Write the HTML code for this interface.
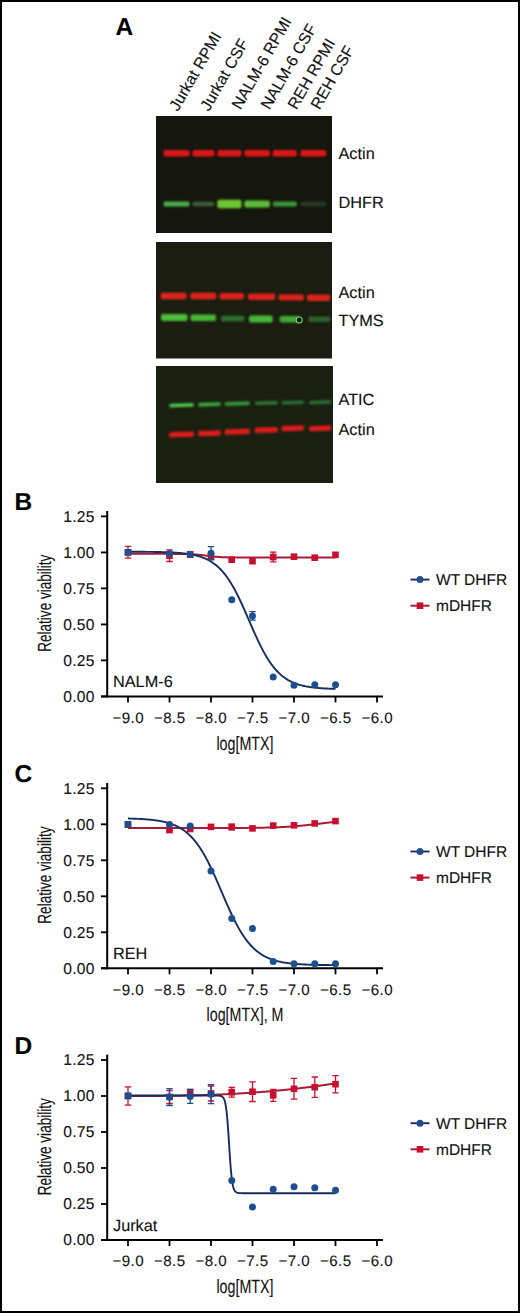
<!DOCTYPE html>
<html><head><meta charset="utf-8"><style>
html,body{margin:0;padding:0;background:#fff;}
body{width:520px;height:1313px;overflow:hidden;}
#fig{position:absolute;left:0;top:0;width:520px;height:1313px;box-sizing:border-box;border:2px solid #000;}
svg{position:absolute;left:0;top:0;}
text{stroke:#111;stroke-width:0.12px;}
</style></head><body>
<div id="fig"></div>
<svg width="520" height="1313" viewBox="0 0 520 1313" text-rendering="geometricPrecision">
<defs><filter id="bl" x="-20%" y="-100%" width="140%" height="300%"><feGaussianBlur stdDeviation="0.85"/></filter></defs>
<text x="115.5" y="35" font-family='"Liberation Sans", sans-serif' font-weight="bold" font-size="24.5" fill="#000" stroke="#000" stroke-width="0.35">A</text>
<text x="178" y="112" transform="rotate(-60 178 112)" font-family='"Liberation Sans", sans-serif' font-size="16" fill="#111">Jurkat RPMI</text>
<text x="209" y="112" transform="rotate(-60 209 112)" font-family='"Liberation Sans", sans-serif' font-size="16" fill="#111">Jurkat CSF</text>
<text x="240.5" y="110.5" transform="rotate(-60 240.5 110.5)" font-family='"Liberation Sans", sans-serif' font-size="16" fill="#111">NALM-6 RPMI</text>
<text x="269.5" y="110.5" transform="rotate(-60 269.5 110.5)" font-family='"Liberation Sans", sans-serif' font-size="16" fill="#111">NALM-6 CSF</text>
<text x="296.5" y="110.5" transform="rotate(-60 296.5 110.5)" font-family='"Liberation Sans", sans-serif' font-size="16" fill="#111">REH RPMI</text>
<text x="319.5" y="110.5" transform="rotate(-60 319.5 110.5)" font-family='"Liberation Sans", sans-serif' font-size="16" fill="#111">REH CSF</text>
<rect x="156" y="116" width="176" height="117" fill="#15160d"/>
<rect x="156" y="242" width="176" height="116.5" fill="#1a1d10"/>
<rect x="156" y="366" width="177" height="117" fill="#192010"/>
<rect x="163.5" y="150.0" width="26.1" height="6.6" rx="2" fill="#dc1616" opacity="1.0" filter="url(#bl)"/>
<rect x="192.4" y="150.0" width="22.1" height="6.6" rx="2" fill="#dc1616" opacity="1.0" filter="url(#bl)"/>
<rect x="217.3" y="150.0" width="24.2" height="6.6" rx="2" fill="#dc1616" opacity="1.0" filter="url(#bl)"/>
<rect x="244.3" y="150.0" width="25.6" height="6.6" rx="2" fill="#dc1616" opacity="1.0" filter="url(#bl)"/>
<rect x="272.7" y="150.0" width="24.2" height="6.6" rx="2" fill="#dc1616" opacity="1.0" filter="url(#bl)"/>
<rect x="300.4" y="150.0" width="25.9" height="6.6" rx="2" fill="#dc1616" opacity="1.0" filter="url(#bl)"/>
<rect x="163.5" y="201.5" width="26.1" height="5.0" rx="2" fill="#4aae48" opacity="1.0" filter="url(#bl)"/>
<rect x="192.4" y="201.8" width="22.1" height="4.5" rx="2" fill="#3a5e3c" opacity="1.0" filter="url(#bl)"/>
<rect x="217.3" y="199.8" width="24.2" height="8.5" rx="2" fill="#6cc830" opacity="1.0" filter="url(#bl)"/>
<rect x="244.3" y="200.5" width="25.6" height="7.0" rx="2" fill="#5cbc3a" opacity="1.0" filter="url(#bl)"/>
<rect x="272.7" y="201.5" width="24.2" height="5.0" rx="2" fill="#37983a" opacity="1.0" filter="url(#bl)"/>
<rect x="300.4" y="201.8" width="25.9" height="4.5" rx="2" fill="#283a28" opacity="1.0" filter="url(#bl)"/>
<rect x="160.6" y="292.8" width="26.2" height="6.4" rx="2" fill="#dc241a" opacity="1.0" filter="url(#bl)"/>
<rect x="190.2" y="292.8" width="26.1" height="6.4" rx="2" fill="#dc241a" opacity="1.0" filter="url(#bl)"/>
<rect x="219.5" y="293.0" width="24.5" height="6.4" rx="2" fill="#dc241a" opacity="1.0" filter="url(#bl)"/>
<rect x="247.9" y="293.5" width="27.3" height="6.4" rx="2" fill="#dc241a" opacity="1.0" filter="url(#bl)"/>
<rect x="278.6" y="294.2" width="25.2" height="6.4" rx="2" fill="#dc241a" opacity="1.0" filter="url(#bl)"/>
<rect x="306.9" y="294.6" width="23.3" height="6.4" rx="2" fill="#dc241a" opacity="1.0" filter="url(#bl)"/>
<rect x="161.0" y="314.1" width="26.5" height="7.0" rx="2" fill="#4cbe3a" opacity="1.0" filter="url(#bl)"/>
<rect x="190.5" y="314.6" width="25.5" height="6.5" rx="2" fill="#48b838" opacity="1.0" filter="url(#bl)"/>
<rect x="220.8" y="315.8" width="23.6" height="5.5" rx="2" fill="#2c702e" opacity="1.0" filter="url(#bl)"/>
<rect x="249.0" y="315.6" width="23.7" height="6.8" rx="2" fill="#46b838" opacity="1.0" filter="url(#bl)"/>
<rect x="279.6" y="316.1" width="20.4" height="6.5" rx="2" fill="#40aa38" opacity="1.0" filter="url(#bl)"/>
<rect x="308.4" y="316.6" width="22.0" height="5.5" rx="2" fill="#2c642e" opacity="1.0" filter="url(#bl)"/>
<circle cx="299.2" cy="320" r="3" fill="#0a1208" stroke="#6ad860" stroke-width="1.1"/>
<rect x="169.0" y="403.4" width="25.0" height="3.6" rx="2" fill="#4ccc4c" opacity="1.0" filter="url(#bl)" transform="rotate(-2 181.5 405.2)"/>
<rect x="198.0" y="402.6" width="23.0" height="3.6" rx="2" fill="#3aa840" opacity="1.0" filter="url(#bl)" transform="rotate(-2 209.5 404.4)"/>
<rect x="224.5" y="401.8" width="25.5" height="3.6" rx="2" fill="#349a3a" opacity="1.0" filter="url(#bl)" transform="rotate(-2 237.2 403.6)"/>
<rect x="254.7" y="401.2" width="23.3" height="3.6" rx="2" fill="#2c7834" opacity="1.0" filter="url(#bl)" transform="rotate(-2 266.4 403.0)"/>
<rect x="281.3" y="400.7" width="22.7" height="3.6" rx="2" fill="#2a7034" opacity="1.0" filter="url(#bl)" transform="rotate(-2 292.6 402.5)"/>
<rect x="309.0" y="400.4" width="22.5" height="3.6" rx="2" fill="#2a7034" opacity="1.0" filter="url(#bl)" transform="rotate(-2 320.2 402.2)"/>
<rect x="169.0" y="431.8" width="25.0" height="5.4" rx="2" fill="#dc1a1a" opacity="1.0" filter="url(#bl)" transform="rotate(-2 181.5 434.5)"/>
<rect x="198.0" y="430.6" width="23.0" height="5.4" rx="2" fill="#dc1a1a" opacity="1.0" filter="url(#bl)" transform="rotate(-2 209.5 433.3)"/>
<rect x="224.5" y="429.0" width="25.5" height="5.4" rx="2" fill="#dc1a1a" opacity="1.0" filter="url(#bl)" transform="rotate(-2 237.2 431.7)"/>
<rect x="254.7" y="427.3" width="23.3" height="5.4" rx="2" fill="#dc1a1a" opacity="1.0" filter="url(#bl)" transform="rotate(-2 266.4 430.0)"/>
<rect x="281.3" y="425.5" width="22.7" height="5.4" rx="2" fill="#dc1a1a" opacity="1.0" filter="url(#bl)" transform="rotate(-2 292.6 428.2)"/>
<rect x="309.0" y="425.7" width="22.5" height="5.4" rx="2" fill="#dc1a1a" opacity="1.0" filter="url(#bl)" transform="rotate(-2 320.2 428.4)"/>
<text x="338.5" y="158.7" font-family='"Liberation Sans", sans-serif' font-size="16.3" fill="#111">Actin</text>
<text x="338.5" y="207.7" font-family='"Liberation Sans", sans-serif' font-size="16.3" fill="#111">DHFR</text>
<text x="338.5" y="298" font-family='"Liberation Sans", sans-serif' font-size="16.3" fill="#111">Actin</text>
<text x="338.5" y="326.2" font-family='"Liberation Sans", sans-serif' font-size="16.3" fill="#111">TYMS</text>
<text x="338.5" y="404.8" font-family='"Liberation Sans", sans-serif' font-size="16.3" fill="#111">ATIC</text>
<text x="338.5" y="434.8" font-family='"Liberation Sans", sans-serif' font-size="16.3" fill="#111">Actin</text>
<text x="14.5" y="510.0" font-family='"Liberation Sans", sans-serif' font-weight="bold" font-size="24.5" fill="#000" stroke="#000" stroke-width="0.35">B</text>
<line x1="107.2" y1="511.0" x2="107.2" y2="697.4" stroke="#000" stroke-width="2"/>
<line x1="101" y1="696.4" x2="383" y2="696.4" stroke="#000" stroke-width="2"/>
<line x1="101" y1="696.4" x2="107" y2="696.4" stroke="#000" stroke-width="1.8"/>
<text x="94.6" y="701.6" text-anchor="end" font-family='"Liberation Sans", sans-serif' font-size="15.6" letter-spacing="0.25" fill="#111">0.00</text>
<line x1="101" y1="660.4" x2="107" y2="660.4" stroke="#000" stroke-width="1.8"/>
<text x="94.6" y="665.6" text-anchor="end" font-family='"Liberation Sans", sans-serif' font-size="15.6" letter-spacing="0.25" fill="#111">0.25</text>
<line x1="101" y1="624.4" x2="107" y2="624.4" stroke="#000" stroke-width="1.8"/>
<text x="94.6" y="629.6" text-anchor="end" font-family='"Liberation Sans", sans-serif' font-size="15.6" letter-spacing="0.25" fill="#111">0.50</text>
<line x1="101" y1="588.4" x2="107" y2="588.4" stroke="#000" stroke-width="1.8"/>
<text x="94.6" y="593.6" text-anchor="end" font-family='"Liberation Sans", sans-serif' font-size="15.6" letter-spacing="0.25" fill="#111">0.75</text>
<line x1="101" y1="552.4" x2="107" y2="552.4" stroke="#000" stroke-width="1.8"/>
<text x="94.6" y="557.6" text-anchor="end" font-family='"Liberation Sans", sans-serif' font-size="15.6" letter-spacing="0.25" fill="#111">1.00</text>
<line x1="101" y1="516.4" x2="107" y2="516.4" stroke="#000" stroke-width="1.8"/>
<text x="94.6" y="521.6" text-anchor="end" font-family='"Liberation Sans", sans-serif' font-size="15.6" letter-spacing="0.25" fill="#111">1.25</text>
<line x1="128.0" y1="696.4" x2="128.0" y2="702.4" stroke="#000" stroke-width="1.8"/>
<text x="128.2" y="722.7" text-anchor="middle" font-family='"Liberation Sans", sans-serif' font-size="15.1" letter-spacing="0.45" fill="#111">−9.0</text>
<line x1="169.5" y1="696.4" x2="169.5" y2="702.4" stroke="#000" stroke-width="1.8"/>
<text x="169.7" y="722.7" text-anchor="middle" font-family='"Liberation Sans", sans-serif' font-size="15.1" letter-spacing="0.45" fill="#111">−8.5</text>
<line x1="211.0" y1="696.4" x2="211.0" y2="702.4" stroke="#000" stroke-width="1.8"/>
<text x="211.2" y="722.7" text-anchor="middle" font-family='"Liberation Sans", sans-serif' font-size="15.1" letter-spacing="0.45" fill="#111">−8.0</text>
<line x1="252.5" y1="696.4" x2="252.5" y2="702.4" stroke="#000" stroke-width="1.8"/>
<text x="252.7" y="722.7" text-anchor="middle" font-family='"Liberation Sans", sans-serif' font-size="15.1" letter-spacing="0.45" fill="#111">−7.5</text>
<line x1="294.0" y1="696.4" x2="294.0" y2="702.4" stroke="#000" stroke-width="1.8"/>
<text x="294.2" y="722.7" text-anchor="middle" font-family='"Liberation Sans", sans-serif' font-size="15.1" letter-spacing="0.45" fill="#111">−7.0</text>
<line x1="335.5" y1="696.4" x2="335.5" y2="702.4" stroke="#000" stroke-width="1.8"/>
<text x="335.7" y="722.7" text-anchor="middle" font-family='"Liberation Sans", sans-serif' font-size="15.1" letter-spacing="0.45" fill="#111">−6.5</text>
<line x1="377.0" y1="696.4" x2="377.0" y2="702.4" stroke="#000" stroke-width="1.8"/>
<text x="377.2" y="722.7" text-anchor="middle" font-family='"Liberation Sans", sans-serif' font-size="15.1" letter-spacing="0.45" fill="#111">−6.0</text>
<text transform="translate(51 603.2) rotate(-90) scale(0.713 1)" text-anchor="middle" font-family='"Liberation Sans", sans-serif' font-size="19" fill="#111">Relative viability</text>
<text transform="translate(245.0 749.5) scale(0.74 1)" text-anchor="middle" font-family='"Liberation Sans", sans-serif' font-size="19.3" fill="#111">log[MTX]</text>
<text x="113" y="687.1" font-family='"Liberation Sans", sans-serif' font-size="16.3" fill="#111">NALM-6</text>
<path d="M128.00,553.84 L128.69,553.84 L129.38,553.84 L130.08,553.84 L130.77,553.84 L131.46,553.84 L132.15,553.84 L132.84,553.84 L133.53,553.84 L134.22,553.84 L134.92,553.84 L135.61,553.84 L136.30,553.84 L136.99,553.84 L137.68,553.84 L138.38,553.84 L139.07,553.84 L139.76,553.84 L140.45,553.84 L141.14,553.84 L141.83,553.84 L142.53,553.84 L143.22,553.84 L143.91,553.84 L144.60,553.84 L145.29,553.84 L145.98,553.84 L146.67,553.84 L147.37,553.84 L148.06,553.84 L148.75,553.84 L149.44,553.84 L150.13,553.84 L150.83,553.84 L151.52,553.84 L152.21,553.84 L152.90,553.84 L153.59,553.84 L154.28,553.84 L154.97,553.84 L155.67,553.84 L156.36,553.84 L157.05,553.84 L157.74,553.84 L158.43,553.84 L159.12,553.84 L159.82,553.85 L160.51,553.85 L161.20,553.85 L161.89,553.85 L162.58,553.85 L163.28,553.85 L163.97,553.85 L164.66,553.85 L165.35,553.85 L166.04,553.85 L166.73,553.85 L167.42,553.86 L168.12,553.86 L168.81,553.86 L169.50,553.86 L170.19,553.86 L170.88,553.87 L171.58,553.87 L172.27,553.87 L172.96,553.87 L173.65,553.88 L174.34,553.88 L175.03,553.88 L175.72,553.89 L176.42,553.89 L177.11,553.90 L177.80,553.91 L178.49,553.91 L179.18,553.92 L179.88,553.93 L180.57,553.94 L181.26,553.94 L181.95,553.95 L182.64,553.97 L183.33,553.98 L184.03,553.99 L184.72,554.01 L185.41,554.02 L186.10,554.04 L186.79,554.06 L187.48,554.08 L188.17,554.10 L188.87,554.13 L189.56,554.15 L190.25,554.18 L190.94,554.21 L191.63,554.24 L192.33,554.28 L193.02,554.32 L193.71,554.36 L194.40,554.41 L195.09,554.45 L195.78,554.50 L196.47,554.56 L197.17,554.61 L197.86,554.68 L198.55,554.74 L199.24,554.81 L199.93,554.88 L200.62,554.95 L201.32,555.03 L202.01,555.11 L202.70,555.19 L203.39,555.27 L204.08,555.36 L204.78,555.44 L205.47,555.53 L206.16,555.62 L206.85,555.71 L207.54,555.80 L208.23,555.89 L208.92,555.98 L209.62,556.07 L210.31,556.15 L211.00,556.24 L211.69,556.32 L212.38,556.40 L213.08,556.47 L213.77,556.55 L214.46,556.62 L215.15,556.68 L215.84,556.75 L216.53,556.81 L217.23,556.87 L217.92,556.92 L218.61,556.97 L219.30,557.02 L219.99,557.06 L220.68,557.10 L221.38,557.14 L222.07,557.18 L222.76,557.21 L223.45,557.24 L224.14,557.27 L224.83,557.30 L225.52,557.32 L226.22,557.35 L226.91,557.37 L227.60,557.38 L228.29,557.40 L228.98,557.42 L229.67,557.43 L230.37,557.45 L231.06,557.46 L231.75,557.47 L232.44,557.48 L233.13,557.49 L233.83,557.50 L234.52,557.51 L235.21,557.51 L235.90,557.52 L236.59,557.52 L237.28,557.53 L237.98,557.53 L238.67,557.54 L239.36,557.54 L240.05,557.55 L240.74,557.55 L241.43,557.55 L242.12,557.56 L242.82,557.56 L243.51,557.56 L244.20,557.56 L244.89,557.56 L245.58,557.57 L246.27,557.57 L246.97,557.57 L247.66,557.57 L248.35,557.57 L249.04,557.57 L249.73,557.57 L250.42,557.58 L251.12,557.58 L251.81,557.58 L252.50,557.58 L253.19,557.58 L253.88,557.58 L254.58,557.58 L255.27,557.58 L255.96,557.58 L256.65,557.58 L257.34,557.58 L258.03,557.58 L258.73,557.58 L259.42,557.58 L260.11,557.58 L260.80,557.58 L261.49,557.58 L262.18,557.58 L262.88,557.58 L263.57,557.58 L264.26,557.58 L264.95,557.58 L265.64,557.58 L266.33,557.58 L267.02,557.58 L267.72,557.58 L268.41,557.58 L269.10,557.58 L269.79,557.58 L270.48,557.58 L271.17,557.58 L271.87,557.58 L272.56,557.58 L273.25,557.58 L273.94,557.58 L274.63,557.58 L275.33,557.58 L276.02,557.58 L276.71,557.58 L277.40,557.58 L278.09,557.58 L278.78,557.58 L279.48,557.58 L280.17,557.58 L280.86,557.58 L281.55,557.58 L282.24,557.58 L282.93,557.58 L283.62,557.58 L284.32,557.58 L285.01,557.58 L285.70,557.58 L286.39,557.58 L287.08,557.58 L287.77,557.58 L288.47,557.58 L289.16,557.58 L289.85,557.58 L290.54,557.58 L291.23,557.58 L291.92,557.58 L292.62,557.58 L293.31,557.58 L294.00,557.58 L294.69,557.58 L295.38,557.58 L296.08,557.58 L296.77,557.58 L297.46,557.58 L298.15,557.58 L298.84,557.58 L299.53,557.58 L300.23,557.58 L300.92,557.58 L301.61,557.58 L302.30,557.58 L302.99,557.58 L303.68,557.58 L304.38,557.58 L305.07,557.58 L305.76,557.58 L306.45,557.58 L307.14,557.58 L307.83,557.58 L308.52,557.58 L309.22,557.58 L309.91,557.58 L310.60,557.58 L311.29,557.58 L311.98,557.58 L312.67,557.58 L313.37,557.58 L314.06,557.58 L314.75,557.58 L315.44,557.58 L316.13,557.58 L316.83,557.58 L317.52,557.58 L318.21,557.58 L318.90,557.58 L319.59,557.58 L320.28,557.58 L320.98,557.58 L321.67,557.58 L322.36,557.58 L323.05,557.58 L323.74,557.58 L324.43,557.58 L325.12,557.58 L325.82,557.58 L326.51,557.58 L327.20,557.58 L327.89,557.58 L328.58,557.58 L329.27,557.58 L329.97,557.58 L330.66,557.58 L331.35,557.58 L332.04,557.58 L332.73,557.58 L333.42,557.58 L334.12,557.58 L334.81,557.58 L335.50,557.58" fill="none" stroke="#a81c38" stroke-width="2"/>
<path d="M128.0,546.4 L128.0,558.2 M124.8,546.4 L131.2,546.4 M124.8,558.2 L131.2,558.2" stroke="#c8102e" stroke-width="1.3" fill="none"/>
<rect x="124.7" y="549.0" width="6.6" height="6.6" fill="#c8102e"/>
<path d="M169.5,549.9 L169.5,561.5 M166.3,549.9 L172.7,549.9 M166.3,561.5 L172.7,561.5" stroke="#c8102e" stroke-width="1.3" fill="none"/>
<rect x="166.2" y="552.4" width="6.6" height="6.6" fill="#c8102e"/>
<path d="M190.2,551.6 L190.2,557.4 M187.1,551.6 L193.4,551.6 M187.1,557.4 L193.4,557.4" stroke="#c8102e" stroke-width="1.3" fill="none"/>
<rect x="186.9" y="551.2" width="6.6" height="6.6" fill="#c8102e"/>
<rect x="207.7" y="553.5" width="6.6" height="6.6" fill="#c8102e"/>
<rect x="228.4" y="556.4" width="6.6" height="6.6" fill="#c8102e"/>
<rect x="249.2" y="557.9" width="6.6" height="6.6" fill="#c8102e"/>
<path d="M273.2,552.1 L273.2,561.9 M270.1,552.1 L276.4,552.1 M270.1,561.9 L276.4,561.9" stroke="#c8102e" stroke-width="1.3" fill="none"/>
<rect x="269.9" y="553.7" width="6.6" height="6.6" fill="#c8102e"/>
<rect x="290.7" y="553.4" width="6.6" height="6.6" fill="#c8102e"/>
<rect x="311.4" y="554.4" width="6.6" height="6.6" fill="#c8102e"/>
<rect x="332.2" y="551.5" width="6.6" height="6.6" fill="#c8102e"/>
<path d="M128.00,551.73 L128.69,551.74 L129.38,551.74 L130.08,551.74 L130.77,551.74 L131.46,551.74 L132.15,551.75 L132.84,551.75 L133.53,551.75 L134.22,551.76 L134.92,551.76 L135.61,551.76 L136.30,551.76 L136.99,551.77 L137.68,551.77 L138.38,551.77 L139.07,551.78 L139.76,551.78 L140.45,551.79 L141.14,551.79 L141.83,551.80 L142.53,551.80 L143.22,551.81 L143.91,551.81 L144.60,551.82 L145.29,551.82 L145.98,551.83 L146.67,551.84 L147.37,551.84 L148.06,551.85 L148.75,551.86 L149.44,551.86 L150.13,551.87 L150.83,551.88 L151.52,551.89 L152.21,551.90 L152.90,551.91 L153.59,551.92 L154.28,551.93 L154.97,551.94 L155.67,551.95 L156.36,551.96 L157.05,551.98 L157.74,551.99 L158.43,552.00 L159.12,552.02 L159.82,552.03 L160.51,552.05 L161.20,552.07 L161.89,552.09 L162.58,552.10 L163.28,552.12 L163.97,552.14 L164.66,552.16 L165.35,552.19 L166.04,552.21 L166.73,552.23 L167.42,552.26 L168.12,552.29 L168.81,552.32 L169.50,552.34 L170.19,552.38 L170.88,552.41 L171.58,552.44 L172.27,552.48 L172.96,552.51 L173.65,552.55 L174.34,552.59 L175.03,552.64 L175.72,552.68 L176.42,552.73 L177.11,552.78 L177.80,552.83 L178.49,552.88 L179.18,552.94 L179.88,552.99 L180.57,553.06 L181.26,553.12 L181.95,553.19 L182.64,553.26 L183.33,553.33 L184.03,553.41 L184.72,553.49 L185.41,553.57 L186.10,553.66 L186.79,553.75 L187.48,553.85 L188.17,553.95 L188.87,554.06 L189.56,554.17 L190.25,554.28 L190.94,554.40 L191.63,554.53 L192.33,554.66 L193.02,554.80 L193.71,554.94 L194.40,555.09 L195.09,555.25 L195.78,555.42 L196.47,555.59 L197.17,555.77 L197.86,555.96 L198.55,556.15 L199.24,556.36 L199.93,556.57 L200.62,556.80 L201.32,557.03 L202.01,557.27 L202.70,557.53 L203.39,557.79 L204.08,558.07 L204.78,558.36 L205.47,558.66 L206.16,558.98 L206.85,559.30 L207.54,559.64 L208.23,560.00 L208.92,560.37 L209.62,560.76 L210.31,561.16 L211.00,561.58 L211.69,562.01 L212.38,562.46 L213.08,562.93 L213.77,563.42 L214.46,563.93 L215.15,564.46 L215.84,565.01 L216.53,565.58 L217.23,566.17 L217.92,566.79 L218.61,567.42 L219.30,568.08 L219.99,568.77 L220.68,569.47 L221.38,570.21 L222.07,570.96 L222.76,571.75 L223.45,572.56 L224.14,573.39 L224.83,574.26 L225.52,575.15 L226.22,576.07 L226.91,577.01 L227.60,577.99 L228.29,578.99 L228.98,580.03 L229.67,581.09 L230.37,582.18 L231.06,583.29 L231.75,584.44 L232.44,585.61 L233.13,586.82 L233.83,588.05 L234.52,589.31 L235.21,590.59 L235.90,591.90 L236.59,593.24 L237.28,594.60 L237.98,595.98 L238.67,597.39 L239.36,598.82 L240.05,600.27 L240.74,601.75 L241.43,603.24 L242.12,604.74 L242.82,606.27 L243.51,607.81 L244.20,609.36 L244.89,610.92 L245.58,612.50 L246.27,614.08 L246.97,615.67 L247.66,617.26 L248.35,618.86 L249.04,620.46 L249.73,622.06 L250.42,623.66 L251.12,625.25 L251.81,626.84 L252.50,628.42 L253.19,630.00 L253.88,631.56 L254.58,633.11 L255.27,634.65 L255.96,636.18 L256.65,637.69 L257.34,639.18 L258.03,640.65 L258.73,642.10 L259.42,643.53 L260.11,644.94 L260.80,646.33 L261.49,647.69 L262.18,649.03 L262.88,650.34 L263.57,651.62 L264.26,652.88 L264.95,654.11 L265.64,655.32 L266.33,656.49 L267.02,657.64 L267.72,658.76 L268.41,659.85 L269.10,660.91 L269.79,661.95 L270.48,662.95 L271.17,663.93 L271.87,664.88 L272.56,665.80 L273.25,666.69 L273.94,667.55 L274.63,668.39 L275.33,669.20 L276.02,669.99 L276.71,670.75 L277.40,671.48 L278.09,672.19 L278.78,672.87 L279.48,673.53 L280.17,674.17 L280.86,674.78 L281.55,675.38 L282.24,675.95 L282.93,676.50 L283.62,677.03 L284.32,677.54 L285.01,678.03 L285.70,678.50 L286.39,678.95 L287.08,679.39 L287.77,679.81 L288.47,680.21 L289.16,680.60 L289.85,680.97 L290.54,681.32 L291.23,681.66 L291.92,681.99 L292.62,682.31 L293.31,682.61 L294.00,682.90 L294.69,683.18 L295.38,683.44 L296.08,683.70 L296.77,683.94 L297.46,684.17 L298.15,684.40 L298.84,684.61 L299.53,684.82 L300.23,685.02 L300.92,685.20 L301.61,685.38 L302.30,685.56 L302.99,685.72 L303.68,685.88 L304.38,686.03 L305.07,686.18 L305.76,686.31 L306.45,686.45 L307.14,686.57 L307.83,686.69 L308.52,686.81 L309.22,686.92 L309.91,687.03 L310.60,687.13 L311.29,687.22 L311.98,687.32 L312.67,687.40 L313.37,687.49 L314.06,687.57 L314.75,687.65 L315.44,687.72 L316.13,687.79 L316.83,687.86 L317.52,687.92 L318.21,687.98 L318.90,688.04 L319.59,688.10 L320.28,688.15 L320.98,688.20 L321.67,688.25 L322.36,688.30 L323.05,688.34 L323.74,688.39 L324.43,688.43 L325.12,688.47 L325.82,688.50 L326.51,688.54 L327.20,688.57 L327.89,688.60 L328.58,688.63 L329.27,688.66 L329.97,688.69 L330.66,688.72 L331.35,688.75 L332.04,688.77 L332.73,688.79 L333.42,688.82 L334.12,688.84 L334.81,688.86 L335.50,688.88" fill="none" stroke="#172d62" stroke-width="1.9"/>
<rect x="124.7" y="549.0" width="6.6" height="6.6" fill="#1d4f8e"/>
<circle cx="169.5" cy="553.6" r="3.5" fill="#1d4f8e"/>
<circle cx="190.2" cy="554.3" r="3.5" fill="#1d4f8e"/>
<path d="M211.0,546.6 L211.0,559.8 M207.8,546.6 L214.2,546.6 M207.8,559.8 L214.2,559.8" stroke="#1d4f8e" stroke-width="1.3" fill="none"/>
<circle cx="211.0" cy="553.2" r="3.5" fill="#1d4f8e"/>
<circle cx="231.8" cy="599.8" r="3.5" fill="#1d4f8e"/>
<path d="M252.5,611.7 L252.5,620.1 M249.3,611.7 L255.7,611.7 M249.3,620.1 L255.7,620.1" stroke="#1d4f8e" stroke-width="1.3" fill="none"/>
<circle cx="252.5" cy="615.9" r="3.5" fill="#1d4f8e"/>
<circle cx="273.2" cy="677.1" r="3.5" fill="#1d4f8e"/>
<circle cx="294.0" cy="685.2" r="3.5" fill="#1d4f8e"/>
<circle cx="314.8" cy="684.7" r="3.5" fill="#1d4f8e"/>
<circle cx="335.5" cy="684.7" r="3.5" fill="#1d4f8e"/>
<line x1="410.5" y1="579.6" x2="429.5" y2="579.6" stroke="#172d62" stroke-width="1.9"/>
<circle cx="420" cy="579.6" r="3.5" fill="#1d4f8e"/>
<text x="436" y="584.9" font-family='"Liberation Sans", sans-serif' font-size="15.5" fill="#111">WT DHFR</text>
<line x1="410.5" y1="605.7" x2="429.5" y2="605.7" stroke="#a81c38" stroke-width="2"/>
<rect x="416.7" y="602.4" width="6.6" height="6.6" fill="#c8102e"/>
<text x="436" y="611.0" font-family='"Liberation Sans", sans-serif' font-size="15.5" fill="#111">mDHFR</text>
<text x="14.5" y="781.9" font-family='"Liberation Sans", sans-serif' font-weight="bold" font-size="24.5" fill="#000" stroke="#000" stroke-width="0.35">C</text>
<line x1="107.2" y1="782.9" x2="107.2" y2="969.3" stroke="#000" stroke-width="2"/>
<line x1="101" y1="968.3" x2="383" y2="968.3" stroke="#000" stroke-width="2"/>
<line x1="101" y1="968.3" x2="107" y2="968.3" stroke="#000" stroke-width="1.8"/>
<text x="94.6" y="973.5" text-anchor="end" font-family='"Liberation Sans", sans-serif' font-size="15.6" letter-spacing="0.25" fill="#111">0.00</text>
<line x1="101" y1="932.3" x2="107" y2="932.3" stroke="#000" stroke-width="1.8"/>
<text x="94.6" y="937.5" text-anchor="end" font-family='"Liberation Sans", sans-serif' font-size="15.6" letter-spacing="0.25" fill="#111">0.25</text>
<line x1="101" y1="896.3" x2="107" y2="896.3" stroke="#000" stroke-width="1.8"/>
<text x="94.6" y="901.5" text-anchor="end" font-family='"Liberation Sans", sans-serif' font-size="15.6" letter-spacing="0.25" fill="#111">0.50</text>
<line x1="101" y1="860.3" x2="107" y2="860.3" stroke="#000" stroke-width="1.8"/>
<text x="94.6" y="865.5" text-anchor="end" font-family='"Liberation Sans", sans-serif' font-size="15.6" letter-spacing="0.25" fill="#111">0.75</text>
<line x1="101" y1="824.3" x2="107" y2="824.3" stroke="#000" stroke-width="1.8"/>
<text x="94.6" y="829.5" text-anchor="end" font-family='"Liberation Sans", sans-serif' font-size="15.6" letter-spacing="0.25" fill="#111">1.00</text>
<line x1="101" y1="788.3" x2="107" y2="788.3" stroke="#000" stroke-width="1.8"/>
<text x="94.6" y="793.5" text-anchor="end" font-family='"Liberation Sans", sans-serif' font-size="15.6" letter-spacing="0.25" fill="#111">1.25</text>
<line x1="128.0" y1="968.3" x2="128.0" y2="974.3" stroke="#000" stroke-width="1.8"/>
<text x="128.2" y="994.6" text-anchor="middle" font-family='"Liberation Sans", sans-serif' font-size="15.1" letter-spacing="0.45" fill="#111">−9.0</text>
<line x1="169.5" y1="968.3" x2="169.5" y2="974.3" stroke="#000" stroke-width="1.8"/>
<text x="169.7" y="994.6" text-anchor="middle" font-family='"Liberation Sans", sans-serif' font-size="15.1" letter-spacing="0.45" fill="#111">−8.5</text>
<line x1="211.0" y1="968.3" x2="211.0" y2="974.3" stroke="#000" stroke-width="1.8"/>
<text x="211.2" y="994.6" text-anchor="middle" font-family='"Liberation Sans", sans-serif' font-size="15.1" letter-spacing="0.45" fill="#111">−8.0</text>
<line x1="252.5" y1="968.3" x2="252.5" y2="974.3" stroke="#000" stroke-width="1.8"/>
<text x="252.7" y="994.6" text-anchor="middle" font-family='"Liberation Sans", sans-serif' font-size="15.1" letter-spacing="0.45" fill="#111">−7.5</text>
<line x1="294.0" y1="968.3" x2="294.0" y2="974.3" stroke="#000" stroke-width="1.8"/>
<text x="294.2" y="994.6" text-anchor="middle" font-family='"Liberation Sans", sans-serif' font-size="15.1" letter-spacing="0.45" fill="#111">−7.0</text>
<line x1="335.5" y1="968.3" x2="335.5" y2="974.3" stroke="#000" stroke-width="1.8"/>
<text x="335.7" y="994.6" text-anchor="middle" font-family='"Liberation Sans", sans-serif' font-size="15.1" letter-spacing="0.45" fill="#111">−6.5</text>
<line x1="377.0" y1="968.3" x2="377.0" y2="974.3" stroke="#000" stroke-width="1.8"/>
<text x="377.2" y="994.6" text-anchor="middle" font-family='"Liberation Sans", sans-serif' font-size="15.1" letter-spacing="0.45" fill="#111">−6.0</text>
<text transform="translate(51 875.1) rotate(-90) scale(0.713 1)" text-anchor="middle" font-family='"Liberation Sans", sans-serif' font-size="19" fill="#111">Relative viability</text>
<text transform="translate(245.0 1021.4) scale(0.74 1)" text-anchor="middle" font-family='"Liberation Sans", sans-serif' font-size="19.3" fill="#111">log[MTX], M</text>
<text x="113" y="959.0" font-family='"Liberation Sans", sans-serif' font-size="16.3" fill="#111">REH</text>
<path d="M128.00,828.04 L128.69,828.04 L129.38,828.04 L130.08,828.04 L130.77,828.04 L131.46,828.04 L132.15,828.04 L132.84,828.04 L133.53,828.04 L134.22,828.04 L134.92,828.04 L135.61,828.04 L136.30,828.04 L136.99,828.04 L137.68,828.04 L138.38,828.04 L139.07,828.04 L139.76,828.04 L140.45,828.04 L141.14,828.04 L141.83,828.04 L142.53,828.04 L143.22,828.04 L143.91,828.04 L144.60,828.04 L145.29,828.04 L145.98,828.04 L146.67,828.04 L147.37,828.04 L148.06,828.04 L148.75,828.04 L149.44,828.04 L150.13,828.04 L150.83,828.04 L151.52,828.04 L152.21,828.04 L152.90,828.04 L153.59,828.04 L154.28,828.04 L154.97,828.04 L155.67,828.04 L156.36,828.04 L157.05,828.04 L157.74,828.04 L158.43,828.04 L159.12,828.04 L159.82,828.04 L160.51,828.04 L161.20,828.04 L161.89,828.04 L162.58,828.04 L163.28,828.04 L163.97,828.04 L164.66,828.04 L165.35,828.04 L166.04,828.04 L166.73,828.04 L167.42,828.04 L168.12,828.04 L168.81,828.04 L169.50,828.04 L170.19,828.04 L170.88,828.04 L171.58,828.04 L172.27,828.04 L172.96,828.04 L173.65,828.04 L174.34,828.04 L175.03,828.04 L175.72,828.04 L176.42,828.04 L177.11,828.04 L177.80,828.04 L178.49,828.04 L179.18,828.04 L179.88,828.04 L180.57,828.04 L181.26,828.04 L181.95,828.04 L182.64,828.04 L183.33,828.04 L184.03,828.04 L184.72,828.04 L185.41,828.04 L186.10,828.04 L186.79,828.04 L187.48,828.04 L188.17,828.04 L188.87,828.04 L189.56,828.04 L190.25,828.04 L190.94,828.04 L191.63,828.04 L192.33,828.04 L193.02,828.04 L193.71,828.04 L194.40,828.04 L195.09,828.04 L195.78,828.03 L196.47,828.03 L197.17,828.03 L197.86,828.03 L198.55,828.03 L199.24,828.03 L199.93,828.03 L200.62,828.03 L201.32,828.03 L202.01,828.03 L202.70,828.03 L203.39,828.03 L204.08,828.03 L204.78,828.03 L205.47,828.03 L206.16,828.03 L206.85,828.03 L207.54,828.03 L208.23,828.03 L208.92,828.02 L209.62,828.02 L210.31,828.02 L211.00,828.02 L211.69,828.02 L212.38,828.02 L213.08,828.02 L213.77,828.02 L214.46,828.02 L215.15,828.02 L215.84,828.02 L216.53,828.01 L217.23,828.01 L217.92,828.01 L218.61,828.01 L219.30,828.01 L219.99,828.01 L220.68,828.01 L221.38,828.01 L222.07,828.00 L222.76,828.00 L223.45,828.00 L224.14,828.00 L224.83,828.00 L225.52,828.00 L226.22,827.99 L226.91,827.99 L227.60,827.99 L228.29,827.99 L228.98,827.99 L229.67,827.98 L230.37,827.98 L231.06,827.98 L231.75,827.98 L232.44,827.97 L233.13,827.97 L233.83,827.97 L234.52,827.96 L235.21,827.96 L235.90,827.96 L236.59,827.96 L237.28,827.95 L237.98,827.95 L238.67,827.94 L239.36,827.94 L240.05,827.94 L240.74,827.93 L241.43,827.93 L242.12,827.92 L242.82,827.92 L243.51,827.91 L244.20,827.91 L244.89,827.90 L245.58,827.90 L246.27,827.89 L246.97,827.89 L247.66,827.88 L248.35,827.87 L249.04,827.87 L249.73,827.86 L250.42,827.85 L251.12,827.85 L251.81,827.84 L252.50,827.83 L253.19,827.82 L253.88,827.82 L254.58,827.81 L255.27,827.80 L255.96,827.79 L256.65,827.78 L257.34,827.77 L258.03,827.76 L258.73,827.75 L259.42,827.74 L260.11,827.73 L260.80,827.71 L261.49,827.70 L262.18,827.69 L262.88,827.67 L263.57,827.66 L264.26,827.65 L264.95,827.63 L265.64,827.62 L266.33,827.60 L267.02,827.58 L267.72,827.57 L268.41,827.55 L269.10,827.53 L269.79,827.51 L270.48,827.49 L271.17,827.47 L271.87,827.45 L272.56,827.43 L273.25,827.41 L273.94,827.39 L274.63,827.36 L275.33,827.34 L276.02,827.31 L276.71,827.29 L277.40,827.26 L278.09,827.23 L278.78,827.20 L279.48,827.17 L280.17,827.14 L280.86,827.11 L281.55,827.08 L282.24,827.04 L282.93,827.01 L283.62,826.97 L284.32,826.94 L285.01,826.90 L285.70,826.86 L286.39,826.82 L287.08,826.78 L287.77,826.74 L288.47,826.70 L289.16,826.65 L289.85,826.61 L290.54,826.56 L291.23,826.51 L291.92,826.46 L292.62,826.41 L293.31,826.36 L294.00,826.31 L294.69,826.26 L295.38,826.20 L296.08,826.14 L296.77,826.09 L297.46,826.03 L298.15,825.97 L298.84,825.91 L299.53,825.84 L300.23,825.78 L300.92,825.72 L301.61,825.65 L302.30,825.58 L302.99,825.52 L303.68,825.45 L304.38,825.38 L305.07,825.30 L305.76,825.23 L306.45,825.16 L307.14,825.09 L307.83,825.01 L308.52,824.93 L309.22,824.86 L309.91,824.78 L310.60,824.70 L311.29,824.62 L311.98,824.54 L312.67,824.46 L313.37,824.38 L314.06,824.30 L314.75,824.22 L315.44,824.14 L316.13,824.05 L316.83,823.97 L317.52,823.89 L318.21,823.81 L318.90,823.72 L319.59,823.64 L320.28,823.56 L320.98,823.48 L321.67,823.39 L322.36,823.31 L323.05,823.23 L323.74,823.15 L324.43,823.07 L325.12,822.99 L325.82,822.91 L326.51,822.83 L327.20,822.75 L327.89,822.67 L328.58,822.59 L329.27,822.51 L329.97,822.44 L330.66,822.36 L331.35,822.29 L332.04,822.22 L332.73,822.14 L333.42,822.07 L334.12,822.00 L334.81,821.93 L335.50,821.86" fill="none" stroke="#a81c38" stroke-width="2"/>
<rect x="124.7" y="821.3" width="6.6" height="6.6" fill="#c8102e"/>
<rect x="166.2" y="826.8" width="6.6" height="6.6" fill="#c8102e"/>
<rect x="186.9" y="825.7" width="6.6" height="6.6" fill="#c8102e"/>
<rect x="207.7" y="823.6" width="6.6" height="6.6" fill="#c8102e"/>
<path d="M231.8,824.1 L231.8,829.9 M228.6,824.1 L234.9,824.1 M228.6,829.9 L234.9,829.9" stroke="#c8102e" stroke-width="1.3" fill="none"/>
<rect x="228.4" y="823.7" width="6.6" height="6.6" fill="#c8102e"/>
<rect x="249.2" y="825.1" width="6.6" height="6.6" fill="#c8102e"/>
<rect x="269.9" y="822.3" width="6.6" height="6.6" fill="#c8102e"/>
<rect x="290.7" y="822.0" width="6.6" height="6.6" fill="#c8102e"/>
<rect x="311.4" y="820.1" width="6.6" height="6.6" fill="#c8102e"/>
<rect x="332.2" y="817.8" width="6.6" height="6.6" fill="#c8102e"/>
<path d="M128.00,818.53 L128.69,818.55 L129.38,818.57 L130.08,818.59 L130.77,818.61 L131.46,818.63 L132.15,818.65 L132.84,818.67 L133.53,818.69 L134.22,818.72 L134.92,818.74 L135.61,818.77 L136.30,818.80 L136.99,818.83 L137.68,818.86 L138.38,818.89 L139.07,818.92 L139.76,818.95 L140.45,818.99 L141.14,819.03 L141.83,819.07 L142.53,819.11 L143.22,819.15 L143.91,819.20 L144.60,819.24 L145.29,819.29 L145.98,819.34 L146.67,819.40 L147.37,819.45 L148.06,819.51 L148.75,819.57 L149.44,819.63 L150.13,819.70 L150.83,819.77 L151.52,819.84 L152.21,819.91 L152.90,819.99 L153.59,820.07 L154.28,820.16 L154.97,820.25 L155.67,820.34 L156.36,820.44 L157.05,820.54 L157.74,820.65 L158.43,820.76 L159.12,820.87 L159.82,820.99 L160.51,821.12 L161.20,821.25 L161.89,821.38 L162.58,821.52 L163.28,821.67 L163.97,821.83 L164.66,821.99 L165.35,822.16 L166.04,822.33 L166.73,822.51 L167.42,822.70 L168.12,822.90 L168.81,823.11 L169.50,823.32 L170.19,823.55 L170.88,823.78 L171.58,824.02 L172.27,824.28 L172.96,824.54 L173.65,824.81 L174.34,825.10 L175.03,825.40 L175.72,825.71 L176.42,826.03 L177.11,826.36 L177.80,826.71 L178.49,827.07 L179.18,827.45 L179.88,827.84 L180.57,828.24 L181.26,828.67 L181.95,829.10 L182.64,829.56 L183.33,830.03 L184.03,830.52 L184.72,831.03 L185.41,831.55 L186.10,832.10 L186.79,832.66 L187.48,833.25 L188.17,833.86 L188.87,834.48 L189.56,835.13 L190.25,835.81 L190.94,836.50 L191.63,837.22 L192.33,837.96 L193.02,838.73 L193.71,839.52 L194.40,840.34 L195.09,841.18 L195.78,842.05 L196.47,842.94 L197.17,843.86 L197.86,844.81 L198.55,845.78 L199.24,846.78 L199.93,847.81 L200.62,848.86 L201.32,849.95 L202.01,851.06 L202.70,852.19 L203.39,853.36 L204.08,854.55 L204.78,855.77 L205.47,857.01 L206.16,858.29 L206.85,859.58 L207.54,860.90 L208.23,862.25 L208.92,863.62 L209.62,865.01 L210.31,866.43 L211.00,867.87 L211.69,869.33 L212.38,870.80 L213.08,872.30 L213.77,873.81 L214.46,875.34 L215.15,876.89 L215.84,878.45 L216.53,880.02 L217.23,881.60 L217.92,883.19 L218.61,884.79 L219.30,886.40 L219.99,888.01 L220.68,889.63 L221.38,891.25 L222.07,892.86 L222.76,894.48 L223.45,896.09 L224.14,897.70 L224.83,899.31 L225.52,900.90 L226.22,902.49 L226.91,904.07 L227.60,905.64 L228.29,907.19 L228.98,908.73 L229.67,910.25 L230.37,911.76 L231.06,913.24 L231.75,914.71 L232.44,916.16 L233.13,917.59 L233.83,919.00 L234.52,920.38 L235.21,921.74 L235.90,923.08 L236.59,924.39 L237.28,925.67 L237.98,926.93 L238.67,928.16 L239.36,929.37 L240.05,930.55 L240.74,931.70 L241.43,932.83 L242.12,933.93 L242.82,935.00 L243.51,936.04 L244.20,937.06 L244.89,938.04 L245.58,939.01 L246.27,939.94 L246.97,940.85 L247.66,941.73 L248.35,942.59 L249.04,943.42 L249.73,944.22 L250.42,945.00 L251.12,945.76 L251.81,946.49 L252.50,947.20 L253.19,947.88 L253.88,948.54 L254.58,949.18 L255.27,949.80 L255.96,950.40 L256.65,950.98 L257.34,951.53 L258.03,952.07 L258.73,952.59 L259.42,953.09 L260.11,953.57 L260.80,954.03 L261.49,954.48 L262.18,954.91 L262.88,955.32 L263.57,955.72 L264.26,956.11 L264.95,956.48 L265.64,956.83 L266.33,957.17 L267.02,957.50 L267.72,957.82 L268.41,958.12 L269.10,958.41 L269.79,958.69 L270.48,958.96 L271.17,959.22 L271.87,959.47 L272.56,959.71 L273.25,959.94 L273.94,960.16 L274.63,960.37 L275.33,960.57 L276.02,960.77 L276.71,960.95 L277.40,961.13 L278.09,961.30 L278.78,961.47 L279.48,961.63 L280.17,961.78 L280.86,961.92 L281.55,962.06 L282.24,962.20 L282.93,962.33 L283.62,962.45 L284.32,962.57 L285.01,962.68 L285.70,962.79 L286.39,962.89 L287.08,962.99 L287.77,963.08 L288.47,963.18 L289.16,963.26 L289.85,963.35 L290.54,963.43 L291.23,963.50 L291.92,963.58 L292.62,963.65 L293.31,963.72 L294.00,963.78 L294.69,963.84 L295.38,963.90 L296.08,963.96 L296.77,964.01 L297.46,964.06 L298.15,964.11 L298.84,964.16 L299.53,964.21 L300.23,964.25 L300.92,964.29 L301.61,964.33 L302.30,964.37 L302.99,964.41 L303.68,964.44 L304.38,964.48 L305.07,964.51 L305.76,964.54 L306.45,964.57 L307.14,964.60 L307.83,964.63 L308.52,964.65 L309.22,964.68 L309.91,964.70 L310.60,964.72 L311.29,964.75 L311.98,964.77 L312.67,964.79 L313.37,964.81 L314.06,964.82 L314.75,964.84 L315.44,964.86 L316.13,964.87 L316.83,964.89 L317.52,964.90 L318.21,964.92 L318.90,964.93 L319.59,964.95 L320.28,964.96 L320.98,964.97 L321.67,964.98 L322.36,964.99 L323.05,965.00 L323.74,965.01 L324.43,965.02 L325.12,965.03 L325.82,965.04 L326.51,965.05 L327.20,965.06 L327.89,965.06 L328.58,965.07 L329.27,965.08 L329.97,965.08 L330.66,965.09 L331.35,965.10 L332.04,965.10 L332.73,965.11 L333.42,965.11 L334.12,965.12 L334.81,965.12 L335.50,965.13" fill="none" stroke="#172d62" stroke-width="1.9"/>
<rect x="124.7" y="821.1" width="6.6" height="6.6" fill="#1d4f8e"/>
<circle cx="169.5" cy="824.4" r="3.5" fill="#1d4f8e"/>
<circle cx="190.2" cy="825.9" r="3.5" fill="#1d4f8e"/>
<circle cx="211.0" cy="871.0" r="3.5" fill="#1d4f8e"/>
<circle cx="231.8" cy="918.6" r="3.5" fill="#1d4f8e"/>
<circle cx="252.5" cy="928.5" r="3.5" fill="#1d4f8e"/>
<circle cx="273.2" cy="961.4" r="3.5" fill="#1d4f8e"/>
<circle cx="294.0" cy="963.8" r="3.5" fill="#1d4f8e"/>
<circle cx="314.8" cy="963.8" r="3.5" fill="#1d4f8e"/>
<circle cx="335.5" cy="963.8" r="3.5" fill="#1d4f8e"/>
<line x1="410.5" y1="851.5" x2="429.5" y2="851.5" stroke="#172d62" stroke-width="1.9"/>
<circle cx="420" cy="851.5" r="3.5" fill="#1d4f8e"/>
<text x="436" y="856.8" font-family='"Liberation Sans", sans-serif' font-size="15.5" fill="#111">WT DHFR</text>
<line x1="410.5" y1="877.6" x2="429.5" y2="877.6" stroke="#a81c38" stroke-width="2"/>
<rect x="416.7" y="874.3" width="6.6" height="6.6" fill="#c8102e"/>
<text x="436" y="882.9" font-family='"Liberation Sans", sans-serif' font-size="15.5" fill="#111">mDHFR</text>
<text x="14.5" y="1053.6" font-family='"Liberation Sans", sans-serif' font-weight="bold" font-size="24.5" fill="#000" stroke="#000" stroke-width="0.35">D</text>
<line x1="107.2" y1="1054.6" x2="107.2" y2="1241.0" stroke="#000" stroke-width="2"/>
<line x1="101" y1="1240.0" x2="383" y2="1240.0" stroke="#000" stroke-width="2"/>
<line x1="101" y1="1240.0" x2="107" y2="1240.0" stroke="#000" stroke-width="1.8"/>
<text x="94.6" y="1245.2" text-anchor="end" font-family='"Liberation Sans", sans-serif' font-size="15.6" letter-spacing="0.25" fill="#111">0.00</text>
<line x1="101" y1="1204.0" x2="107" y2="1204.0" stroke="#000" stroke-width="1.8"/>
<text x="94.6" y="1209.2" text-anchor="end" font-family='"Liberation Sans", sans-serif' font-size="15.6" letter-spacing="0.25" fill="#111">0.25</text>
<line x1="101" y1="1168.0" x2="107" y2="1168.0" stroke="#000" stroke-width="1.8"/>
<text x="94.6" y="1173.2" text-anchor="end" font-family='"Liberation Sans", sans-serif' font-size="15.6" letter-spacing="0.25" fill="#111">0.50</text>
<line x1="101" y1="1132.0" x2="107" y2="1132.0" stroke="#000" stroke-width="1.8"/>
<text x="94.6" y="1137.2" text-anchor="end" font-family='"Liberation Sans", sans-serif' font-size="15.6" letter-spacing="0.25" fill="#111">0.75</text>
<line x1="101" y1="1096.0" x2="107" y2="1096.0" stroke="#000" stroke-width="1.8"/>
<text x="94.6" y="1101.2" text-anchor="end" font-family='"Liberation Sans", sans-serif' font-size="15.6" letter-spacing="0.25" fill="#111">1.00</text>
<line x1="101" y1="1060.0" x2="107" y2="1060.0" stroke="#000" stroke-width="1.8"/>
<text x="94.6" y="1065.2" text-anchor="end" font-family='"Liberation Sans", sans-serif' font-size="15.6" letter-spacing="0.25" fill="#111">1.25</text>
<line x1="128.0" y1="1240.0" x2="128.0" y2="1246.0" stroke="#000" stroke-width="1.8"/>
<text x="128.2" y="1266.3" text-anchor="middle" font-family='"Liberation Sans", sans-serif' font-size="15.1" letter-spacing="0.45" fill="#111">−9.0</text>
<line x1="169.5" y1="1240.0" x2="169.5" y2="1246.0" stroke="#000" stroke-width="1.8"/>
<text x="169.7" y="1266.3" text-anchor="middle" font-family='"Liberation Sans", sans-serif' font-size="15.1" letter-spacing="0.45" fill="#111">−8.5</text>
<line x1="211.0" y1="1240.0" x2="211.0" y2="1246.0" stroke="#000" stroke-width="1.8"/>
<text x="211.2" y="1266.3" text-anchor="middle" font-family='"Liberation Sans", sans-serif' font-size="15.1" letter-spacing="0.45" fill="#111">−8.0</text>
<line x1="252.5" y1="1240.0" x2="252.5" y2="1246.0" stroke="#000" stroke-width="1.8"/>
<text x="252.7" y="1266.3" text-anchor="middle" font-family='"Liberation Sans", sans-serif' font-size="15.1" letter-spacing="0.45" fill="#111">−7.5</text>
<line x1="294.0" y1="1240.0" x2="294.0" y2="1246.0" stroke="#000" stroke-width="1.8"/>
<text x="294.2" y="1266.3" text-anchor="middle" font-family='"Liberation Sans", sans-serif' font-size="15.1" letter-spacing="0.45" fill="#111">−7.0</text>
<line x1="335.5" y1="1240.0" x2="335.5" y2="1246.0" stroke="#000" stroke-width="1.8"/>
<text x="335.7" y="1266.3" text-anchor="middle" font-family='"Liberation Sans", sans-serif' font-size="15.1" letter-spacing="0.45" fill="#111">−6.5</text>
<line x1="377.0" y1="1240.0" x2="377.0" y2="1246.0" stroke="#000" stroke-width="1.8"/>
<text x="377.2" y="1266.3" text-anchor="middle" font-family='"Liberation Sans", sans-serif' font-size="15.1" letter-spacing="0.45" fill="#111">−6.0</text>
<text transform="translate(51 1146.8) rotate(-90) scale(0.713 1)" text-anchor="middle" font-family='"Liberation Sans", sans-serif' font-size="19" fill="#111">Relative viability</text>
<text transform="translate(245.0 1293.1) scale(0.74 1)" text-anchor="middle" font-family='"Liberation Sans", sans-serif' font-size="19.3" fill="#111">log[MTX]</text>
<text x="113" y="1230.7" font-family='"Liberation Sans", sans-serif' font-size="16.3" fill="#111">Jurkat</text>
<path d="M128.00,1096.00 L128.69,1096.00 L129.38,1096.00 L130.08,1096.00 L130.77,1096.00 L131.46,1096.00 L132.15,1096.00 L132.84,1096.00 L133.53,1096.00 L134.22,1096.00 L134.92,1096.00 L135.61,1096.00 L136.30,1096.00 L136.99,1096.00 L137.68,1096.00 L138.38,1095.99 L139.07,1095.99 L139.76,1095.99 L140.45,1095.99 L141.14,1095.99 L141.83,1095.99 L142.53,1095.99 L143.22,1095.99 L143.91,1095.98 L144.60,1095.98 L145.29,1095.98 L145.98,1095.98 L146.67,1095.98 L147.37,1095.97 L148.06,1095.97 L148.75,1095.97 L149.44,1095.97 L150.13,1095.96 L150.83,1095.96 L151.52,1095.96 L152.21,1095.95 L152.90,1095.95 L153.59,1095.95 L154.28,1095.94 L154.97,1095.94 L155.67,1095.93 L156.36,1095.93 L157.05,1095.92 L157.74,1095.92 L158.43,1095.91 L159.12,1095.91 L159.82,1095.90 L160.51,1095.90 L161.20,1095.89 L161.89,1095.89 L162.58,1095.88 L163.28,1095.87 L163.97,1095.87 L164.66,1095.86 L165.35,1095.85 L166.04,1095.85 L166.73,1095.84 L167.42,1095.83 L168.12,1095.82 L168.81,1095.82 L169.50,1095.81 L170.19,1095.80 L170.88,1095.79 L171.58,1095.78 L172.27,1095.77 L172.96,1095.76 L173.65,1095.75 L174.34,1095.74 L175.03,1095.73 L175.72,1095.72 L176.42,1095.71 L177.11,1095.70 L177.80,1095.69 L178.49,1095.68 L179.18,1095.67 L179.88,1095.66 L180.57,1095.64 L181.26,1095.63 L181.95,1095.62 L182.64,1095.61 L183.33,1095.59 L184.03,1095.58 L184.72,1095.57 L185.41,1095.55 L186.10,1095.54 L186.79,1095.52 L187.48,1095.51 L188.17,1095.49 L188.87,1095.48 L189.56,1095.46 L190.25,1095.45 L190.94,1095.43 L191.63,1095.41 L192.33,1095.40 L193.02,1095.38 L193.71,1095.36 L194.40,1095.35 L195.09,1095.33 L195.78,1095.31 L196.47,1095.29 L197.17,1095.27 L197.86,1095.25 L198.55,1095.23 L199.24,1095.21 L199.93,1095.19 L200.62,1095.17 L201.32,1095.15 L202.01,1095.13 L202.70,1095.11 L203.39,1095.09 L204.08,1095.07 L204.78,1095.04 L205.47,1095.02 L206.16,1095.00 L206.85,1094.98 L207.54,1094.95 L208.23,1094.93 L208.92,1094.90 L209.62,1094.88 L210.31,1094.86 L211.00,1094.83 L211.69,1094.80 L212.38,1094.78 L213.08,1094.75 L213.77,1094.73 L214.46,1094.70 L215.15,1094.67 L215.84,1094.64 L216.53,1094.62 L217.23,1094.59 L217.92,1094.56 L218.61,1094.53 L219.30,1094.50 L219.99,1094.47 L220.68,1094.44 L221.38,1094.41 L222.07,1094.38 L222.76,1094.35 L223.45,1094.32 L224.14,1094.29 L224.83,1094.25 L225.52,1094.22 L226.22,1094.19 L226.91,1094.15 L227.60,1094.12 L228.29,1094.09 L228.98,1094.05 L229.67,1094.02 L230.37,1093.98 L231.06,1093.95 L231.75,1093.91 L232.44,1093.87 L233.13,1093.84 L233.83,1093.80 L234.52,1093.76 L235.21,1093.72 L235.90,1093.69 L236.59,1093.65 L237.28,1093.61 L237.98,1093.57 L238.67,1093.53 L239.36,1093.49 L240.05,1093.45 L240.74,1093.41 L241.43,1093.36 L242.12,1093.32 L242.82,1093.28 L243.51,1093.24 L244.20,1093.19 L244.89,1093.15 L245.58,1093.11 L246.27,1093.06 L246.97,1093.02 L247.66,1092.97 L248.35,1092.93 L249.04,1092.88 L249.73,1092.83 L250.42,1092.79 L251.12,1092.74 L251.81,1092.69 L252.50,1092.64 L253.19,1092.59 L253.88,1092.54 L254.58,1092.49 L255.27,1092.44 L255.96,1092.39 L256.65,1092.34 L257.34,1092.29 L258.03,1092.24 L258.73,1092.19 L259.42,1092.14 L260.11,1092.08 L260.80,1092.03 L261.49,1091.97 L262.18,1091.92 L262.88,1091.87 L263.57,1091.81 L264.26,1091.75 L264.95,1091.70 L265.64,1091.64 L266.33,1091.58 L267.02,1091.53 L267.72,1091.47 L268.41,1091.41 L269.10,1091.35 L269.79,1091.29 L270.48,1091.23 L271.17,1091.17 L271.87,1091.11 L272.56,1091.05 L273.25,1090.99 L273.94,1090.92 L274.63,1090.86 L275.33,1090.80 L276.02,1090.73 L276.71,1090.67 L277.40,1090.61 L278.09,1090.54 L278.78,1090.48 L279.48,1090.41 L280.17,1090.34 L280.86,1090.28 L281.55,1090.21 L282.24,1090.14 L282.93,1090.07 L283.62,1090.00 L284.32,1089.93 L285.01,1089.86 L285.70,1089.79 L286.39,1089.72 L287.08,1089.65 L287.77,1089.58 L288.47,1089.50 L289.16,1089.43 L289.85,1089.36 L290.54,1089.28 L291.23,1089.21 L291.92,1089.13 L292.62,1089.06 L293.31,1088.98 L294.00,1088.91 L294.69,1088.83 L295.38,1088.75 L296.08,1088.67 L296.77,1088.59 L297.46,1088.52 L298.15,1088.44 L298.84,1088.36 L299.53,1088.27 L300.23,1088.19 L300.92,1088.11 L301.61,1088.03 L302.30,1087.95 L302.99,1087.86 L303.68,1087.78 L304.38,1087.70 L305.07,1087.61 L305.76,1087.52 L306.45,1087.44 L307.14,1087.35 L307.83,1087.27 L308.52,1087.18 L309.22,1087.09 L309.91,1087.00 L310.60,1086.91 L311.29,1086.82 L311.98,1086.73 L312.67,1086.64 L313.37,1086.55 L314.06,1086.46 L314.75,1086.36 L315.44,1086.27 L316.13,1086.18 L316.83,1086.08 L317.52,1085.99 L318.21,1085.89 L318.90,1085.80 L319.59,1085.70 L320.28,1085.60 L320.98,1085.51 L321.67,1085.41 L322.36,1085.31 L323.05,1085.21 L323.74,1085.11 L324.43,1085.01 L325.12,1084.91 L325.82,1084.81 L326.51,1084.71 L327.20,1084.60 L327.89,1084.50 L328.58,1084.40 L329.27,1084.29 L329.97,1084.19 L330.66,1084.08 L331.35,1083.98 L332.04,1083.87 L332.73,1083.76 L333.42,1083.65 L334.12,1083.55 L334.81,1083.44 L335.50,1083.33" fill="none" stroke="#a81c38" stroke-width="2"/>
<path d="M128.0,1086.9 L128.0,1105.1 M124.8,1086.9 L131.2,1086.9 M124.8,1105.1 L131.2,1105.1" stroke="#c8102e" stroke-width="1.3" fill="none"/>
<rect x="124.7" y="1092.7" width="6.6" height="6.6" fill="#c8102e"/>
<path d="M169.5,1090.5 L169.5,1103.5 M166.3,1090.5 L172.7,1090.5 M166.3,1103.5 L172.7,1103.5" stroke="#c8102e" stroke-width="1.3" fill="none"/>
<rect x="166.2" y="1093.7" width="6.6" height="6.6" fill="#c8102e"/>
<rect x="186.9" y="1088.6" width="6.6" height="6.6" fill="#c8102e"/>
<path d="M211.0,1086.0 L211.0,1101.0 M207.8,1086.0 L214.2,1086.0 M207.8,1101.0 L214.2,1101.0" stroke="#c8102e" stroke-width="1.3" fill="none"/>
<rect x="207.7" y="1090.2" width="6.6" height="6.6" fill="#c8102e"/>
<path d="M231.8,1087.5 L231.8,1097.1 M228.6,1087.5 L234.9,1087.5 M228.6,1097.1 L234.9,1097.1" stroke="#c8102e" stroke-width="1.3" fill="none"/>
<rect x="228.4" y="1089.0" width="6.6" height="6.6" fill="#c8102e"/>
<path d="M252.5,1081.9 L252.5,1101.5 M249.3,1081.9 L255.7,1081.9 M249.3,1101.5 L255.7,1101.5" stroke="#c8102e" stroke-width="1.3" fill="none"/>
<rect x="249.2" y="1088.4" width="6.6" height="6.6" fill="#c8102e"/>
<path d="M273.2,1089.3 L273.2,1101.3 M270.1,1089.3 L276.4,1089.3 M270.1,1101.3 L276.4,1101.3" stroke="#c8102e" stroke-width="1.3" fill="none"/>
<rect x="269.9" y="1092.0" width="6.6" height="6.6" fill="#c8102e"/>
<path d="M294.0,1078.4 L294.0,1099.2 M290.8,1078.4 L297.2,1078.4 M290.8,1099.2 L297.2,1099.2" stroke="#c8102e" stroke-width="1.3" fill="none"/>
<rect x="290.7" y="1085.5" width="6.6" height="6.6" fill="#c8102e"/>
<path d="M314.8,1077.0 L314.8,1097.4 M311.6,1077.0 L317.9,1077.0 M311.6,1097.4 L317.9,1097.4" stroke="#c8102e" stroke-width="1.3" fill="none"/>
<rect x="311.4" y="1083.9" width="6.6" height="6.6" fill="#c8102e"/>
<path d="M335.5,1075.6 L335.5,1092.8 M332.3,1075.6 L338.7,1075.6 M332.3,1092.8 L338.7,1092.8" stroke="#c8102e" stroke-width="1.3" fill="none"/>
<rect x="332.2" y="1080.9" width="6.6" height="6.6" fill="#c8102e"/>
<path d="M128.00,1095.57 L128.69,1095.57 L129.38,1095.57 L130.08,1095.57 L130.77,1095.57 L131.46,1095.57 L132.15,1095.57 L132.84,1095.57 L133.53,1095.57 L134.22,1095.57 L134.92,1095.57 L135.61,1095.57 L136.30,1095.57 L136.99,1095.57 L137.68,1095.57 L138.38,1095.57 L139.07,1095.57 L139.76,1095.57 L140.45,1095.57 L141.14,1095.57 L141.83,1095.57 L142.53,1095.57 L143.22,1095.57 L143.91,1095.57 L144.60,1095.57 L145.29,1095.57 L145.98,1095.57 L146.67,1095.57 L147.37,1095.57 L148.06,1095.57 L148.75,1095.57 L149.44,1095.57 L150.13,1095.57 L150.83,1095.57 L151.52,1095.57 L152.21,1095.57 L152.90,1095.57 L153.59,1095.57 L154.28,1095.57 L154.97,1095.57 L155.67,1095.57 L156.36,1095.57 L157.05,1095.57 L157.74,1095.57 L158.43,1095.57 L159.12,1095.57 L159.82,1095.57 L160.51,1095.57 L161.20,1095.57 L161.89,1095.57 L162.58,1095.57 L163.28,1095.57 L163.97,1095.57 L164.66,1095.57 L165.35,1095.57 L166.04,1095.57 L166.73,1095.57 L167.42,1095.57 L168.12,1095.57 L168.81,1095.57 L169.50,1095.57 L170.19,1095.57 L170.88,1095.57 L171.58,1095.57 L172.27,1095.57 L172.96,1095.57 L173.65,1095.57 L174.34,1095.57 L175.03,1095.57 L175.72,1095.57 L176.42,1095.57 L177.11,1095.57 L177.80,1095.57 L178.49,1095.57 L179.18,1095.57 L179.88,1095.57 L180.57,1095.57 L181.26,1095.57 L181.95,1095.57 L182.64,1095.57 L183.33,1095.57 L184.03,1095.57 L184.72,1095.57 L185.41,1095.57 L186.10,1095.57 L186.79,1095.57 L187.48,1095.57 L188.17,1095.57 L188.87,1095.57 L189.56,1095.57 L190.25,1095.57 L190.94,1095.57 L191.63,1095.57 L192.33,1095.57 L193.02,1095.57 L193.71,1095.57 L194.40,1095.57 L195.09,1095.57 L195.78,1095.57 L196.47,1095.57 L197.17,1095.57 L197.86,1095.57 L198.55,1095.57 L199.24,1095.57 L199.93,1095.57 L200.62,1095.57 L201.32,1095.57 L202.01,1095.57 L202.70,1095.57 L203.39,1095.57 L204.08,1095.57 L204.78,1095.57 L205.47,1095.57 L206.16,1095.57 L206.85,1095.57 L207.54,1095.57 L208.23,1095.57 L208.92,1095.57 L209.62,1095.57 L210.31,1095.57 L211.00,1095.57 L211.69,1095.57 L212.38,1095.57 L213.08,1095.57 L213.77,1095.57 L214.46,1095.58 L215.15,1095.58 L215.84,1095.59 L216.53,1095.60 L217.23,1095.61 L217.92,1095.63 L218.61,1095.67 L219.30,1095.73 L219.99,1095.83 L220.68,1095.97 L221.38,1096.20 L222.07,1096.56 L222.76,1097.11 L223.45,1097.97 L224.14,1099.29 L224.83,1101.28 L225.52,1104.25 L226.22,1108.54 L226.91,1114.50 L227.60,1122.33 L228.29,1131.90 L228.98,1142.62 L229.67,1153.52 L230.37,1163.55 L231.06,1171.97 L231.75,1178.52 L232.44,1183.31 L233.13,1186.66 L233.83,1188.93 L234.52,1190.43 L235.21,1191.42 L235.90,1192.06 L236.59,1192.47 L237.28,1192.73 L237.98,1192.90 L238.67,1193.01 L239.36,1193.08 L240.05,1193.12 L240.74,1193.15 L241.43,1193.17 L242.12,1193.18 L242.82,1193.19 L243.51,1193.19 L244.20,1193.19 L244.89,1193.20 L245.58,1193.20 L246.27,1193.20 L246.97,1193.20 L247.66,1193.20 L248.35,1193.20 L249.04,1193.20 L249.73,1193.20 L250.42,1193.20 L251.12,1193.20 L251.81,1193.20 L252.50,1193.20 L253.19,1193.20 L253.88,1193.20 L254.58,1193.20 L255.27,1193.20 L255.96,1193.20 L256.65,1193.20 L257.34,1193.20 L258.03,1193.20 L258.73,1193.20 L259.42,1193.20 L260.11,1193.20 L260.80,1193.20 L261.49,1193.20 L262.18,1193.20 L262.88,1193.20 L263.57,1193.20 L264.26,1193.20 L264.95,1193.20 L265.64,1193.20 L266.33,1193.20 L267.02,1193.20 L267.72,1193.20 L268.41,1193.20 L269.10,1193.20 L269.79,1193.20 L270.48,1193.20 L271.17,1193.20 L271.87,1193.20 L272.56,1193.20 L273.25,1193.20 L273.94,1193.20 L274.63,1193.20 L275.33,1193.20 L276.02,1193.20 L276.71,1193.20 L277.40,1193.20 L278.09,1193.20 L278.78,1193.20 L279.48,1193.20 L280.17,1193.20 L280.86,1193.20 L281.55,1193.20 L282.24,1193.20 L282.93,1193.20 L283.62,1193.20 L284.32,1193.20 L285.01,1193.20 L285.70,1193.20 L286.39,1193.20 L287.08,1193.20 L287.77,1193.20 L288.47,1193.20 L289.16,1193.20 L289.85,1193.20 L290.54,1193.20 L291.23,1193.20 L291.92,1193.20 L292.62,1193.20 L293.31,1193.20 L294.00,1193.20 L294.69,1193.20 L295.38,1193.20 L296.08,1193.20 L296.77,1193.20 L297.46,1193.20 L298.15,1193.20 L298.84,1193.20 L299.53,1193.20 L300.23,1193.20 L300.92,1193.20 L301.61,1193.20 L302.30,1193.20 L302.99,1193.20 L303.68,1193.20 L304.38,1193.20 L305.07,1193.20 L305.76,1193.20 L306.45,1193.20 L307.14,1193.20 L307.83,1193.20 L308.52,1193.20 L309.22,1193.20 L309.91,1193.20 L310.60,1193.20 L311.29,1193.20 L311.98,1193.20 L312.67,1193.20 L313.37,1193.20 L314.06,1193.20 L314.75,1193.20 L315.44,1193.20 L316.13,1193.20 L316.83,1193.20 L317.52,1193.20 L318.21,1193.20 L318.90,1193.20 L319.59,1193.20 L320.28,1193.20 L320.98,1193.20 L321.67,1193.20 L322.36,1193.20 L323.05,1193.20 L323.74,1193.20 L324.43,1193.20 L325.12,1193.20 L325.82,1193.20 L326.51,1193.20 L327.20,1193.20 L327.89,1193.20 L328.58,1193.20 L329.27,1193.20 L329.97,1193.20 L330.66,1193.20 L331.35,1193.20 L332.04,1193.20 L332.73,1193.20 L333.42,1193.20 L334.12,1193.20 L334.81,1193.20 L335.50,1193.20" fill="none" stroke="#172d62" stroke-width="1.9"/>
<rect x="124.7" y="1092.5" width="6.6" height="6.6" fill="#1d4f8e"/>
<path d="M169.5,1088.7 L169.5,1105.5 M166.3,1088.7 L172.7,1088.7 M166.3,1105.5 L172.7,1105.5" stroke="#1d4f8e" stroke-width="1.3" fill="none"/>
<circle cx="169.5" cy="1097.1" r="3.5" fill="#1d4f8e"/>
<path d="M190.2,1089.6 L190.2,1103.4 M187.1,1089.6 L193.4,1089.6 M187.1,1103.4 L193.4,1103.4" stroke="#1d4f8e" stroke-width="1.3" fill="none"/>
<circle cx="190.2" cy="1096.5" r="3.5" fill="#1d4f8e"/>
<path d="M211.0,1084.7 L211.0,1103.7 M207.8,1084.7 L214.2,1084.7 M207.8,1103.7 L214.2,1103.7" stroke="#1d4f8e" stroke-width="1.3" fill="none"/>
<circle cx="211.0" cy="1094.2" r="3.5" fill="#1d4f8e"/>
<circle cx="231.8" cy="1180.4" r="3.5" fill="#1d4f8e"/>
<circle cx="252.5" cy="1207.0" r="3.5" fill="#1d4f8e"/>
<circle cx="273.2" cy="1189.2" r="3.5" fill="#1d4f8e"/>
<circle cx="294.0" cy="1186.8" r="3.5" fill="#1d4f8e"/>
<circle cx="314.8" cy="1187.7" r="3.5" fill="#1d4f8e"/>
<circle cx="335.5" cy="1190.2" r="3.5" fill="#1d4f8e"/>
<line x1="410.5" y1="1123.2" x2="429.5" y2="1123.2" stroke="#172d62" stroke-width="1.9"/>
<circle cx="420" cy="1123.2" r="3.5" fill="#1d4f8e"/>
<text x="436" y="1128.5" font-family='"Liberation Sans", sans-serif' font-size="15.5" fill="#111">WT DHFR</text>
<line x1="410.5" y1="1149.3" x2="429.5" y2="1149.3" stroke="#a81c38" stroke-width="2"/>
<rect x="416.7" y="1146.0" width="6.6" height="6.6" fill="#c8102e"/>
<text x="436" y="1154.6" font-family='"Liberation Sans", sans-serif' font-size="15.5" fill="#111">mDHFR</text>
</svg>
</body></html>
